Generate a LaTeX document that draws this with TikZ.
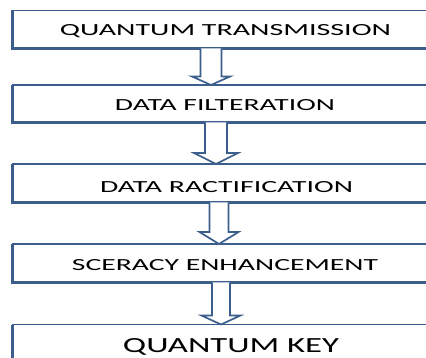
\documentclass[tikz,border=0pt]{standalone}
\usepackage{fontspec}
\setmainfont{Carlito}
\usetikzlibrary{calc}
\definecolor{boxblue}{RGB}{59,94,140}
\tikzset{
  stepbox/.style={draw=boxblue, line width=1.6pt, fill=white, rectangle, inner sep=0pt, outer sep=0pt, anchor=north west},
  lbl/.style={inner sep=0pt, outer sep=0pt, anchor=base, text=black},
  blockarrow/.style={draw=boxblue, fill=white, line width=1.7pt, line join=miter},
  edgeline/.style={draw=boxblue, line width=3pt}
}
% #1 from node, #2 to node, #3 centre x, #4 shaft half width, #5 head half width, #6 head length
\newcommand\blockarr[6]{%
  \filldraw[blockarrow] let \p1=(#1.south), \p2=(#2.north) in
    ({#3pt-#4pt},\y1) -- ({#3pt-#4pt},{\y2+#6pt}) -- ({#3pt-#5pt},{\y2+#6pt}) --
    ({#3pt},\y2) -- ({#3pt+#5pt},{\y2+#6pt}) -- ({#3pt+#4pt},{\y2+#6pt}) -- ({#3pt+#4pt},\y1);
}
\newcommand\boxtxt[3]{\resizebox{#1pt}{#2pt}{#3}}
\begin{document}
\begin{tikzpicture}[x=1pt,y=-1pt]
\useasboundingbox (0,0) rectangle (426,358);
\clip (0,0) rectangle (426,358);
% boxes
\node[stepbox, minimum width=440pt, minimum height=38pt] (b1) at (12.5,10.5) {};
\node[stepbox, minimum width=440pt, minimum height=37.5pt] (b2) at (12.5,85) {};
\node[stepbox, minimum width=440pt, minimum height=38.5pt] (b3) at (12.5,164) {};
\node[stepbox, minimum width=440pt, minimum height=38.5pt] (b4) at (12.5,244) {};
\node[stepbox, minimum width=440pt, minimum height=60pt] (b5) at (12.5,324.5) {};
% thicker left/bottom edges
\foreach \b in {b1,b2,b3,b4}{
  \draw[edgeline] (\b.north west) -- (\b.south west) -- (\b.south east);
}
\draw[edgeline] (b5.north west) -- (b5.south west);
% labels
\node[lbl] (t1) at (225.5,36) {\boxtxt{331}{11}{QUANTUM TRANSMISSION}};
\node[lbl] (t2) at (225,111) {\boxtxt{220}{11}{DATA FILTERATION}};
\node[lbl] (t3) at (226.5,193) {\boxtxt{253}{11}{DATA RACTIFICATION}};
\node[lbl] (t4) at (225,271) {\boxtxt{306}{11}{SCERACY ENHANCEMENT}};
\node[lbl] (t5) at (231,352) {\boxtxt{216}{14}{QUANTUM KEY}};
% arrows
\blockarr{b1}{b2}{211}{10.5}{19}{8.5}
\blockarr{b2}{b3}{216}{11}{22}{11}
\blockarr{b3}{b4}{219}{9.5}{19.5}{12}
\blockarr{b4}{b5}{221}{9}{19.5}{9}
\end{tikzpicture}
\end{document}
